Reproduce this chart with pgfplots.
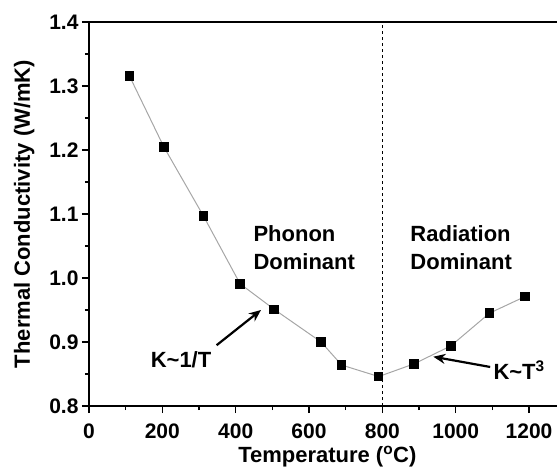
\documentclass[border=0pt]{standalone}
\usepackage{pgfplots}
\pgfplotsset{compat=1.18}
\usepackage{fontspec}
\setmainfont{Liberation Sans}
\usetikzlibrary{arrows.meta}

\begin{document}
\begin{tikzpicture}
\begin{axis}[
    scale only axis,
    width=476.7pt, height=384pt,
    xmin=0, xmax=1300,
    ymin=0.8, ymax=1.4,
    axis x line*=bottom,
    axis y line*=left,
    axis line style={-, line width=2pt},
    xtick={0,200,...,1200},
    ytick={0.8,0.9,...,1.41},
    minor x tick num=1,
    minor y tick num=1,
    tick align=outside,
    major tick length=7pt,
    minor tick length=4pt,
    every tick/.style={line width=1.6pt, black},
    /pgf/number format/assume math mode=true,
    tick label style={font=\bfseries\fontsize{21}{21}\selectfont},
    yticklabel style={/pgf/number format/.cd, fixed, fixed zerofill, precision=1},
    xticklabel style={yshift=-7pt, /pgf/number format/.cd, fixed, precision=0, 1000 sep={}},
    label style={font=\bfseries\fontsize{22}{22}\selectfont},
    xlabel={Temperature (\textsuperscript{o}C)},
    ylabel={Thermal Conductivity (W/mK)},
    xlabel style={yshift=-1pt},
    ylabel style={yshift=8pt},
    clip=false,
]
% top frame line (the right one lies beyond the cropped edge)
\draw[line width=2pt] (rel axis cs:0,1) -- (rel axis cs:1,1);

% boundary between the two regimes
\addplot[black, dashed, line width=0.8pt] coordinates {(800,0.8) (800,1.4)};

\addplot[color=gray!70, line width=1pt, mark=square*,
    mark options={black, solid}, mark size=4.3pt]
coordinates {
    (110,1.316)
    (204,1.205)
    (312,1.097)
    (412,0.991)
    (505,0.951)
    (633,0.900)
    (689,0.864)
    (790,0.846)
    (887,0.866)
    (987,0.894)
    (1092,0.945)
    (1189,0.971)
};

\node[font=\bfseries\fontsize{22}{28}\selectfont, align=left, anchor=west]
    at (axis cs:439,1.047) {Phonon\\Dominant};
\node[font=\bfseries\fontsize{22}{28}\selectfont, align=left, anchor=west]
    at (axis cs:867,1.047) {Radiation\\Dominant};
\node[font=\bfseries\fontsize{22}{22}\selectfont] at (axis cs:251,0.872) {K\textasciitilde 1/T};
\node[font=\bfseries\fontsize{22}{22}\selectfont] at (axis cs:1173,0.856) {K\textasciitilde T\textsuperscript{3}};
\draw[line width=2.2pt, -{Stealth[length=12pt,width=10pt]}] (axis cs:348,0.895) -- (axis cs:469,0.950);
\draw[line width=2.2pt, -{Stealth[length=12pt,width=10pt]}] (axis cs:1094,0.861) -- (axis cs:939,0.877);
\end{axis}
\pgfresetboundingbox
\path[use as bounding box] (-89pt,-61pt) rectangle (468pt,406pt);
\end{tikzpicture}
\end{document}
